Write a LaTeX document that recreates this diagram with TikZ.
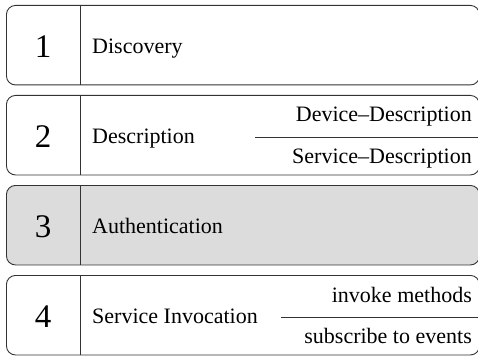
\documentclass[tikz,border=0pt]{standalone}
\usepackage{fontspec}
\setmainfont{Liberation Serif}
\definecolor{edge}{HTML}{333333}
\definecolor{shade}{HTML}{DCDCDC}
\begin{document}
\begin{tikzpicture}[x=1pt,y=-1pt,
  stage/.style={draw=edge, line width=0.9pt, rounded corners=9pt, minimum width=473pt, minimum height=79.5pt, inner sep=0pt, anchor=north west},
  num/.style={inner sep=0pt, anchor=base, font=\fontsize{33}{33}\selectfont},
  lbl/.style={inner sep=0pt, anchor=base west, font=\fontsize{22}{22}\selectfont},
  sub/.style={inner sep=0pt, anchor=base east, font=\fontsize{22}{22}\selectfont},
  sep/.style={draw=edge, line width=0.9pt}]
\useasboundingbox (0,0) rectangle (478,358);
% boxes
\node[stage] (b1) at (6,5) {};
\node[stage] (b2) at (6,95) {};
\node[stage, fill=shade] (b3) at (6,185) {};
\node[stage] (b4) at (6,275) {};
% dividers
\foreach \b in {b1,b2,b3,b4} {
  \coordinate (\b t) at ([xshift=74.5pt]\b.north west);
  \coordinate (\b s) at ([xshift=74.5pt]\b.south west);
  \draw[sep] (\b t) -- (\b s);
}
% numbers
\node[num] (n1) at (43,57.7) {1};
\node[num] (n2) at (43,147.7) {2};
\node[num] (n3) at (43,237.7) {3};
\node[num] (n4) at (43,327.7) {4};
% labels
\node[lbl] (l1) at (92,53.5) {Discovery};
\node[lbl] (l2) at (92,143.5) {Description};
\node[lbl] (l3) at (92,233.5) {Authentication};
\node[lbl] (l4) at (92,323.5) {Service Invocation};
% sub items
\node[sub] (d1) at (472,122) {Device–Description};
\node[sub] (d2) at (472,163) {Service–Description};
\node[sub] (i1) at (472,302) {invoke methods};
\node[sub] (i2) at (472,343) {subscribe to events};
\coordinate (s2a) at (255,137);
\coordinate (s2b) at (b2.east |- s2a);
\draw[sep] (s2a) -- (s2b);
\coordinate (s4a) at (281,317);
\coordinate (s4b) at (b4.east |- s4a);
\draw[sep] (s4a) -- (s4b);
\end{tikzpicture}
\end{document}
